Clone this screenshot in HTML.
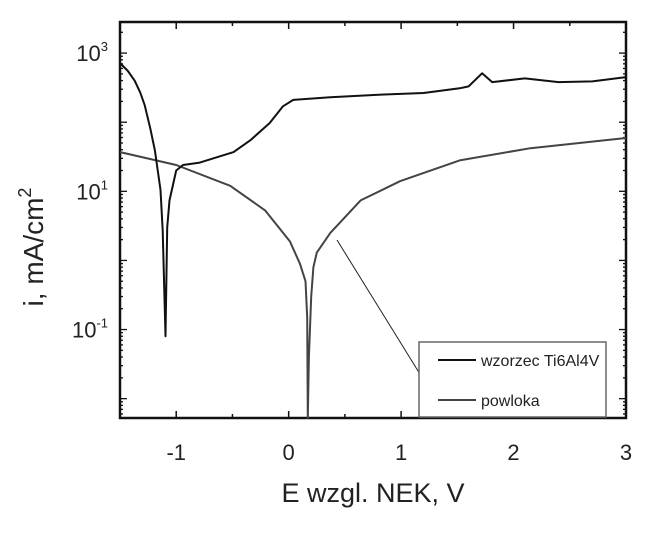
<!DOCTYPE html>
<html><head><meta charset="utf-8"><style>
html,body{margin:0;padding:0;background:#fff;}
svg{display:block;font-family:"Liberation Sans",Arial,sans-serif;}
</style></head><body>
<svg id="chart" width="662" height="543">
<g id="axes"></g>
<g id="series"></g>
<line x1="337" y1="240" x2="436" y2="400" stroke="#222" stroke-width="1"/>
<g>
<rect x="419" y="342" width="187" height="75" fill="#fff" stroke="#666" stroke-width="1.5"/>
<line x1="438" y1="360" x2="476" y2="360" stroke="#111" stroke-width="2"/>
<text x="481" y="366" font-size="16" fill="#222">wzorzec Ti6Al4V</text>
<line x1="438" y1="400" x2="476" y2="400" stroke="#444" stroke-width="2"/>
<text x="481" y="406" font-size="16" fill="#222">powloka</text>
</g>
<text x="373" y="502" font-size="27" text-anchor="middle" fill="#222">E wzgl. NEK, V</text>
<text transform="translate(43,247) rotate(-90)" font-size="28" text-anchor="middle" fill="#222">i, mA/cm<tspan dy="-12" font-size="18">2</tspan></text>
</svg>
<script>
const xTicks=[-1,0,1,2,3];
const yDecades=[3,1,-1];
const tiE=[-1.5,-1.43,-1.37,-1.32,-1.28,-1.23,-1.19,-1.14,-1.12,-1.095,-1.08,-1.06,-1.0,-0.94,-0.79,-0.49,-0.34,-0.17,-0.05,0.04,0.37,0.8,1.2,1.52,1.6,1.72,1.81,2.1,2.4,2.7,3.0];
const tiI=[720,550,400,270,176,80,39,10.5,2.7,0.08,3,7.4,20,24,26,37,55,97,170,210,230,250,265,310,330,510,380,430,380,390,450];
const pwE=[-1.5,-1.0,-0.52,-0.21,0.01,0.1,0.15,0.165,0.17,0.18,0.2,0.22,0.25,0.37,0.64,0.99,1.52,2.15,3.0];
const pwI=[37,24,12,5.3,1.9,0.9,0.5,0.15,0.005,0.04,0.3,0.8,1.3,2.5,7.4,14,28,42,59];
const L=120,R=626,T=22,B=418;
const xmin=-1.5,xmax=3,ymin=-2.28,ymax=3.45;
function X(e){return L+(e-xmin)/(xmax-xmin)*(R-L);}
function Y(v){const lg=Math.log10(v);return B-(lg-ymin)/(ymax-ymin)*(B-T);}
const ns="http://www.w3.org/2000/svg";
const ax=document.getElementById('axes'),se=document.getElementById('series');
function mk(tag,at,p){const e=document.createElementNS(ns,tag);for(const k in at)e.setAttribute(k,at[k]);p.appendChild(e);return e;}
const fr=mk('rect',{x:L,y:T,width:R-L,height:B-T,fill:'none',stroke:'#111','stroke-width':2.5},ax);


for(let e=-1.5;e<=3.001;e+=0.5){
 const big=Math.abs(e-Math.round(e))<0.01;const len=big?7:4;
 const t1=mk('line',{x1:X(e),x2:X(e),y1:B,y2:B-len,stroke:'#111','stroke-width':1.5},ax);
 
 
 const t2=mk('line',{x1:X(e),x2:X(e),y1:T,y2:T+len,stroke:'#111','stroke-width':1.5},ax);
 
 
}
xTicks.forEach(e=>{
 const t=mk('text',{x:X(e),y:B+42,'font-size':22,'text-anchor':'middle',fill:'#222'},ax);t.textContent=String(e);
 
 
});
for(let d=-3;d<=3;d++){for(let m=1;m<10;m++){
 const v=m*Math.pow(10,d);const y=Y(v);if(y<T||y>B)continue;const len=m==1?7:3;
 const a=mk('line',{x1:L,x2:L+len,y1:y,y2:y,stroke:'#111','stroke-width':1.3},ax);
 
 
 const b=mk('line',{x1:R,x2:R-len,y1:y,y2:y,stroke:'#111','stroke-width':1.3},ax);
 
 
}}
yDecades.forEach(d=>{
 const y=Y(Math.pow(10,d));
 const t=mk('text',{x:L-12,y:y+8,'font-size':22,'text-anchor':'end',fill:'#222'},ax);
 t.innerHTML='10<tspan dy="-10" font-size="13">'+d+'</tspan>';
 
 
});
function path(E,I,col,name){
 const d=E.map((e,i)=>(i?'L':'M')+X(e).toFixed(1)+','+Math.min(B,Y(I[i])).toFixed(1)).join('');
 const p=mk('path',{d:d,fill:'none',stroke:col,'stroke-width':2,'stroke-linejoin':'round'},se);
 
 
}
path(pwE,pwI,'#444','series-powloka');
path(tiE,tiI,'#111','series-ti6al4v');
</script>
</body></html>
